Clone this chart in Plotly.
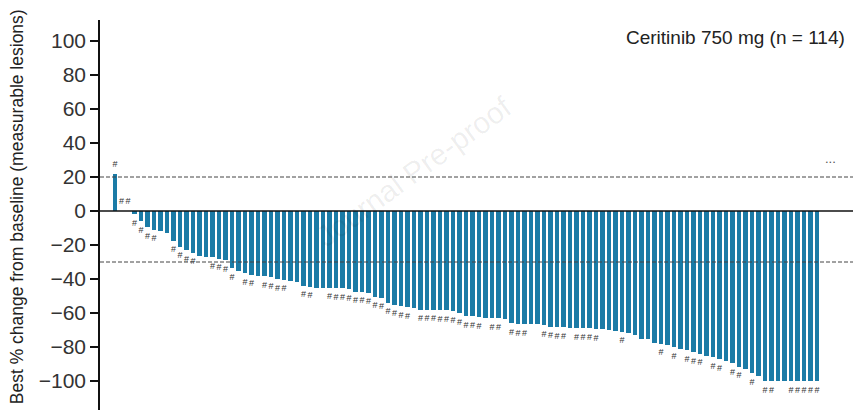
import plotly.graph_objects as go

# Best % change from baseline per patient (sorted waterfall)
values = [22, 0, 0, -2, -6, -9.5, -11, -11.5, -13, -17.5,
          -21, -23, -24.5, -26.5, -27, -27, -28, -29, -33.5, -35,
          -36.5, -37.5, -38, -38.5, -39, -40, -40.5, -41, -41.5, -44,
          -44.5, -45, -45, -45, -45.5, -45.5, -46, -47.5, -47.5, -48,
          -50.5, -51, -54, -55, -56, -56.5, -57, -58, -58, -58,
          -58.5, -58.5, -59, -60, -62, -62, -62.5, -63, -63, -63,
          -63.5, -66, -66.5, -66.5, -66.5, -66.5, -67, -68, -68.5, -68.5,
          -69, -69, -69, -69, -69.5, -69.5, -70, -70.5, -71, -72,
          -73, -75, -75.5, -77.5, -78, -79, -80, -81, -82, -83,
          -84, -85, -86, -87, -88, -89.5, -91.5, -93, -95.5, -97,
          -100, -100, -100, -100, -100, -100, -100, -100, -100]

# Patients marked with "#"
flagged = [0, 1, 2, 3, 4, 5, 6, 9, 10, 11, 12, 15, 16, 17, 18, 20, 21,
           23, 24, 25, 26, 29, 30, 33, 34, 35, 36, 37, 38, 39, 40, 41, 42,
           43, 44, 45, 47, 48, 49, 50, 51, 52, 53, 54, 55, 56, 58, 59, 61,
           62, 63, 66, 67, 68, 69, 71, 72, 73, 74, 78, 84, 86, 88, 89, 90,
           92, 93, 95, 96, 98, 100, 101, 104, 105, 106, 107, 108]

y_ticks = [100, 80, 60, 40, 20, 0, -20, -40, -60, -80, -100]
ref_lines = [20, -30]
label_text = "Ceritinib 750 mg (n = 114)"
y_title = "Best % change from baseline (measurable lesions)"

FONT = "Liberation Sans, Arial, Helvetica"
x = list(range(len(values)))
bar_color = "#1b7ba6"

fig = go.Figure()
fig.add_trace(go.Bar(x=x, y=values, marker_color=bar_color, marker_line_width=0,
                     width=0.68, hoverinfo="skip"))

fx, fy = [], []
for i in flagged:
    v = values[i]
    fx.append(i)
    fy.append(v + 5.5 if v >= 0 else v - 5.5)
fig.add_trace(go.Scatter(x=fx, y=fy, mode="text", text=["#"] * len(fx),
                         textfont=dict(family=FONT, size=9, color="#333"),
                         hoverinfo="skip"))

for r in ref_lines:
    fig.add_shape(type="line", xref="paper", x0=0, x1=1, y0=r, y1=r,
                  line=dict(color="#444", width=1, dash="4px,2px"))
fig.add_shape(type="line", xref="paper", x0=0, x1=1, y0=0, y1=0,
              line=dict(color="#111", width=1.5))

fig.add_annotation(text=label_text, xref="paper", yref="paper", x=0.982, y=0.955,
                   xanchor="right", yanchor="middle", showarrow=False,
                   font=dict(family=FONT, size=19, color="#222"))
fig.add_annotation(text="...", x=110, y=31, xanchor="center",
                   yanchor="middle", showarrow=False,
                   font=dict(family=FONT, size=13, color="#555"))
fig.add_annotation(text="Journal Pre-proof", x=46, y=23,
                   showarrow=False, textangle=-36,
                   font=dict(family=FONT, size=30, color="rgba(0,0,0,0.07)"))
fig.add_annotation(text=y_title, xref="paper", yref="paper", x=-0.109, y=0.52,
                   xanchor="center", yanchor="middle", textangle=-90, showarrow=False,
                   font=dict(family=FONT, size=17.5, color="#222"))

# Page body has an 8px default margin; the figure is sized to fit the 861x410 window.
fig.update_layout(
    width=853, height=402,
    margin=dict(l=92, r=0, t=12, b=0),
    paper_bgcolor="white", plot_bgcolor="white",
    showlegend=False, bargap=0,
    xaxis=dict(range=[-2.31, 114.77], visible=False, showgrid=False, zeroline=False),
    yaxis=dict(range=[-117.05, 112.35], tickvals=y_ticks, ticks="outside", ticklen=8,
               tickwidth=1.5, tickcolor="#111", showline=True, linecolor="#111",
               linewidth=1.5, showgrid=False, zeroline=False, automargin=False,
               tickfont=dict(family=FONT, size=21, color="#333")),
)

fig.write_html("out.html")
